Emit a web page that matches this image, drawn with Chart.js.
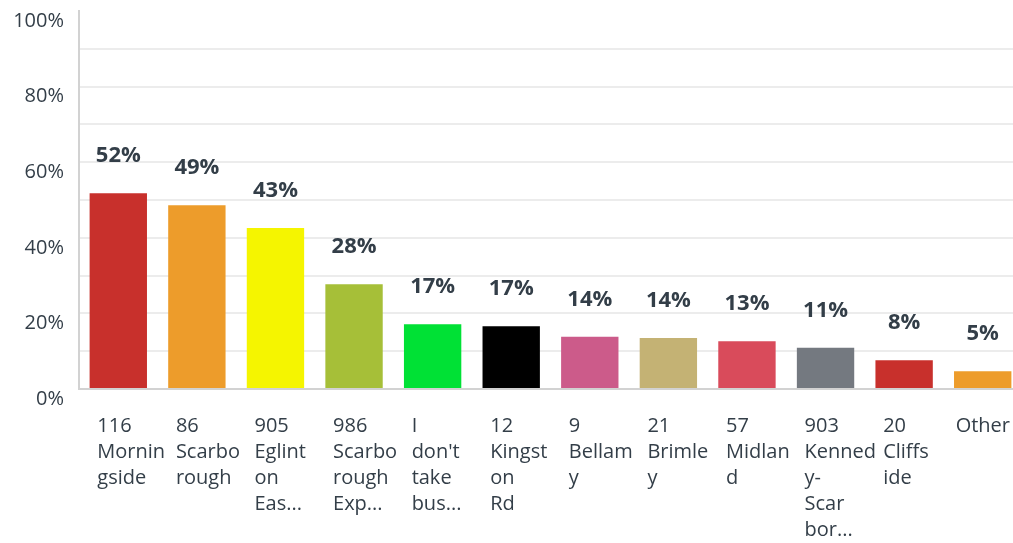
<!DOCTYPE html>
<html>
<head>
<meta charset="utf-8">
<script src="https://cdn.jsdelivr.net/npm/chart.js@4"></script>
<style>
    html, body { margin: 0; padding: 0; background: #fff; overflow: hidden; }
    #wrap { position: relative; width: 1022px; height: 543px; }
</style>
</head>
<body>
<div id="wrap"><canvas id="myChart"></canvas></div>
<script>
// @ts-check

const routeLabels = [
    ['116', 'Mornin', 'gside'],
    ['86', 'Scarbo', 'rough'],
    ['905', 'Eglint', 'on', 'Eas...'],
    ['986', 'Scarbo', 'rough', 'Exp...'],
    ['I', "don't", 'take', 'bus...'],
    ['12', 'Kingst', 'on', 'Rd'],
    ['9', 'Bellam', 'y'],
    ['21', 'Brimle', 'y'],
    ['57', 'Midlan', 'd'],
    ['903', 'Kenned', 'y-', 'Scar', 'bor...'],
    ['20', 'Cliffs', 'ide'],
    ['Other'],
];

const responseShares = [51.8, 48.6, 42.6, 27.7, 17.1, 16.6, 13.8, 13.5, 12.6, 10.9, 7.6, 4.7];

const barColors = [
    '#c8302c', '#ed9c2b', '#f5f500', '#a6bf38', '#00e135', '#000000',
    '#cc5b8a', '#c4b274', '#d94b5b', '#747980', '#c8302c', '#ed9c2b',
];

const percentTicks = [0, 20, 40, 60, 80, 100];

const TEXT_COLOR = '#333e48';
const FONT_FAMILY = '"Open Sans", "Liberation Sans", sans-serif';


/**
 * Percentage above every bar
 */
const valueLabels = {
    id: 'valueLabels',
    afterDatasetsDraw(chart) {
        const { ctx } = chart;
        const meta = chart.getDatasetMeta(0);
        ctx.save();
        ctx.font = `bold 22px ${FONT_FAMILY}`;
        ctx.fillStyle = TEXT_COLOR;
        ctx.textAlign = 'center';
        ctx.textBaseline = 'alphabetic';
        meta.data.forEach((bar, i) => {
            ctx.fillText(Math.round(responseShares[i]) + '%', bar.x, bar.y - 31);
        });
        ctx.restore();
    }
};


/**
 * Wrapped category names under the bars, kept inside the visible page
 */
const categoryLabels = {
    id: 'categoryLabels',
    afterDraw(chart) {
        const { ctx } = chart;
        const xScale = chart.scales.x;
        const maxRight = document.body.clientWidth - 3;
        ctx.save();
        ctx.font = `20px ${FONT_FAMILY}`;
        ctx.fillStyle = TEXT_COLOR;
        ctx.textAlign = 'left';
        ctx.textBaseline = 'alphabetic';
        routeLabels.forEach((lines, i) => {
            const center = xScale.getPixelForValue(i);
            const widest = Math.max(...lines.map((line) => ctx.measureText(line).width));
            const left = Math.min(center - 21, maxRight - widest);
            lines.forEach((line, j) => {
                ctx.fillText(line, left, xScale.top + 43 + j * 26);
            });
        });
        ctx.restore();
    }
};


function renderChart() {
    const ctx = document.getElementById('myChart');
    new Chart(ctx, {
        type: 'bar',
        data: {
            labels: routeLabels,
            datasets: [{
                data: responseShares,
                backgroundColor: barColors,
                borderWidth: 0,
                barPercentage: 0.73,
                categoryPercentage: 1,
            }]
        },
        plugins: [valueLabels, categoryLabels],
        options: {
            responsive: true,
            maintainAspectRatio: false,
            animation: false,
            layout: { padding: { top: 11, right: 0, bottom: 0, left: 0 } },
            plugins: {
                legend: { display: false },
                tooltip: { enabled: false },
            },
            scales: {
                x: {
                    grid: { display: false },
                    border: { color: '#d2d2d2', width: 2 },
                    ticks: { display: false },
                    afterFit(scale) { scale.height = 154; },
                },
                y: {
                    min: 0,
                    max: 100,
                    grid: {
                        color: (c) => (c.tick.value === 0 || c.tick.value === 100) ? 'rgba(0,0,0,0)' : '#ececec',
                        lineWidth: 2,
                        drawTicks: false,
                    },
                    border: { color: '#d2d2d2', width: 2 },
                    ticks: {
                        stepSize: 10,
                        padding: 15,
                        labelOffset: 10,
                        color: TEXT_COLOR,
                        font: { family: FONT_FAMILY, size: 20 },
                        callback: (value) => percentTicks.includes(value) ? value + '%' : '',
                    },
                    afterFit(scale) {
                        scale.width = 79;
                        scale.paddingTop = 0;
                    },
                }
            }
        }
    });
}

renderChart();
</script>
</body>
</html>
